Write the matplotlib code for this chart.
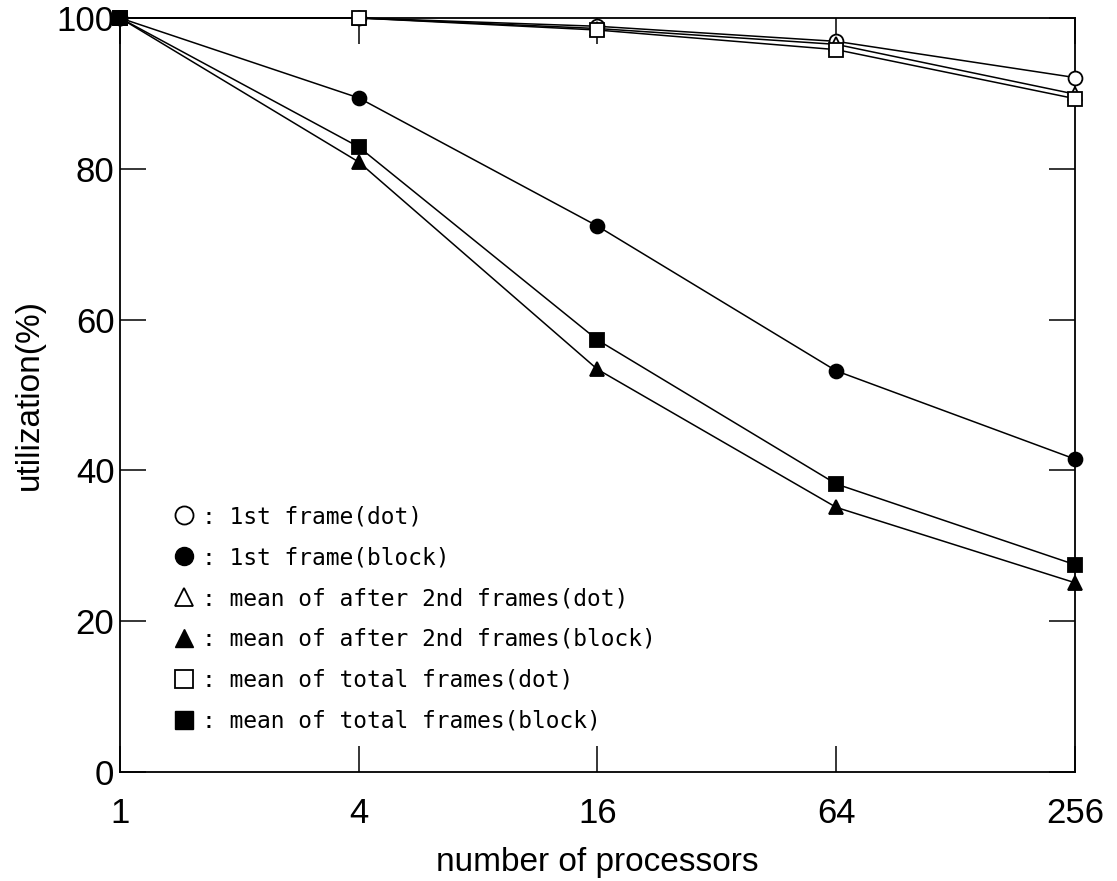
import matplotlib
matplotlib.use("Agg")
import matplotlib.pyplot as plt
from matplotlib.lines import Line2D

processors = [1, 4, 16, 64, 256]
first_dot = [100, 100, 98.9, 96.9, 92.1]
first_block = [100, 89.4, 72.4, 53.2, 41.5]
after_dot = [100, 100, 98.6, 96.5, 89.9]
after_block = [100, 80.9, 53.4, 35.1, 25.1]
total_dot = [100, 100, 98.4, 95.8, 89.3]
total_block = [100, 82.9, 57.3, 38.2, 27.5]

x_ticklabels = ["1", "4", "16", "64", "256"]
y_ticks = [0, 20, 40, 60, 80, 100]

labels = [": 1st frame(dot)", ": 1st frame(block)",
          ": mean of after 2nd frames(dot)", ": mean of after 2nd frames(block)",
          ": mean of total frames(dot)", ": mean of total frames(block)"]

tick_font = ["Liberation Sans", "DejaVu Sans"]
mono_font = ["DejaVu Sans Mono"]

fig = plt.figure(figsize=(11.17, 8.81), dpi=100)
ax = fig.add_axes([0.1074, 0.1237, 0.855, 0.8559])

series = [
    (first_dot, "o", "white"),
    (after_dot, "^", "white"),
    (total_dot, "s", "white"),
    (first_block, "o", "black"),
    (after_block, "^", "black"),
    (total_block, "s", "black"),
]
for vals, m, fc in series:
    ax.plot(processors, vals, color="black", lw=1.1, marker=m, ms=10,
            mfc=fc, mec="black", mew=1.3, clip_on=False, zorder=3)

ax.set_xscale("log", base=4)
ax.set_xlim(1, 256)
ax.set_ylim(0, 100)
ax.set_xticks(processors)
ax.set_xticklabels(x_ticklabels)
ax.minorticks_off()
ax.set_yticks(y_ticks)
ax.set_yticklabels([str(v) for v in y_ticks])

ax.tick_params(axis="both", which="both", direction="in", length=19, width=1.1,
               top=True, right=True, colors="black")
ax.tick_params(axis="x", pad=18)
ax.tick_params(axis="y", pad=4)
for lab in ax.get_xticklabels() + ax.get_yticklabels():
    lab.set_family(tick_font)
    lab.set_fontsize(25)
for sp in ax.spines.values():
    sp.set_linewidth(1.3)

ax.set_xlabel("number of processors", family=tick_font, fontsize=24, labelpad=12)
ax.set_ylabel("utilization(%)", family=tick_font, fontsize=24, labelpad=8)

handles = [
    Line2D([], [], ls="none", marker="o", ms=13, mfc="white", mec="black", mew=1.3),
    Line2D([], [], ls="none", marker="o", ms=13, mfc="black", mec="black"),
    Line2D([], [], ls="none", marker="^", ms=13, mfc="white", mec="black", mew=1.3),
    Line2D([], [], ls="none", marker="^", ms=13, mfc="black", mec="black"),
    Line2D([], [], ls="none", marker="s", ms=13, mfc="white", mec="black", mew=1.3),
    Line2D([], [], ls="none", marker="s", ms=13, mfc="black", mec="black"),
]
leg = ax.legend(handles, labels, loc="lower left", bbox_to_anchor=(0.045, 0.04),
                frameon=False, prop={"family": mono_font, "size": 16.5},
                handlelength=1.0, handletextpad=0.3, labelspacing=0.78,
                borderaxespad=0)

fig.savefig("out.png", dpi=100)
